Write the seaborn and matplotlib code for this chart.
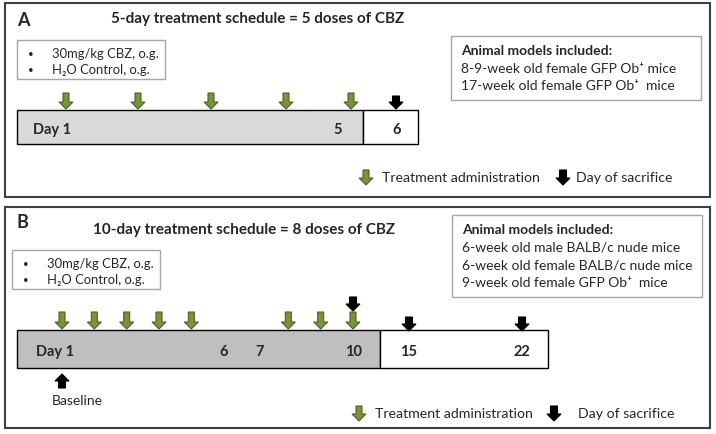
import numpy as np
import matplotlib
matplotlib.use("Agg")
import matplotlib.pyplot as plt
import matplotlib.patches as mpatches
import seaborn as sns

# --- data ---------------------------------------------------------------
panel_a_title = "5-day treatment schedule = 5 doses of CBZ"
panel_b_title = "10-day treatment schedule = 8 doses of CBZ"
groups = ["30mg/kg CBZ, o.g.", "H\u2082O Control, o.g."]

a_treat_days = [1, 2, 3, 4, 5]
a_sacrifice_days = [6]
a_day_labels = ["Day 1", "5", "6"]
a_models = ["8-9-week old female GFP Ob\u207a mice",
            "17-week old female GFP Ob\u207a  mice"]

b_treat_days = [1, 2, 3, 4, 5, 8, 9, 10]
b_sacrifice_days = [10, 15, 22]
b_baseline_days = [1]
b_day_labels = ["Day 1", "6", "7", "10", "15", "22"]
b_models = ["6-week old male BALB/c nude mice",
            "6-week old female BALB/c nude mice",
            "9-week old female GFP Ob\u207a  mice"]

# timeline scales (day -> pixel, broken after the treatment phase)
a_scale_days, a_scale_px = [1, 2, 3, 4, 5, 6], [66, 138, 211, 286, 351, 396]
b_scale_days, b_scale_px = [1, 10, 15, 22], [62, 353, 409, 522]

# --- style --------------------------------------------------------------
sns.set_theme(style="white")
plt.rcParams["font.family"] = ["Lato", "DejaVu Sans"]
GREEN, GREEN_EDGE = "#77933C", "#4F6228"
FRAME = "#404040"
BOX = "#A6A6A6"

fig = plt.figure(figsize=(7.16, 4.34), dpi=100)
ax = fig.add_axes([0, 0, 1, 1])
ax.set_xlim(0, 716)
ax.set_ylim(434, 0)
ax.axis("off")


def rect(x, y, w, h, ec, lw=1.0, fc="none"):
    ax.add_patch(mpatches.Rectangle((x, y), w, h, fc=fc, ec=ec, lw=lw))


def arrow(x, y0, y1, color, edge, width=6, hw=14, hl=7):
    ax.arrow(x, y0, 0, y1 - y0, width=width, head_width=hw, head_length=hl,
             length_includes_head=True, fc=color, ec=edge, lw=0.8, zorder=3)


def legend_box(x, y):
    rect(x, y, 148, 39, BOX)
    for i, g in enumerate(groups):
        ax.text(x + 11, y + 14 + i * 16, "\u2022", fontsize=7, va="center", ha="left")
        ax.text(x + 35, y + 14 + i * 16, g, fontsize=9.4, va="center", ha="left")


def models_box(x, y, h, lines):
    rect(x, y, 250, h, BOX)
    ax.text(x + 10, y + 15, "Animal models included:", fontsize=10,
            fontweight="bold", va="center")
    for i, t in enumerate(lines):
        ax.text(x + 10, y + 33 + i * 17.5, t, fontsize=10, va="center")


def key(x_green, x_black, x_text, y):
    arrow(x_green, y - 8, y + 7, GREEN, GREEN_EDGE)
    ax.text(x_green + 16, y, "Treatment administration", fontsize=10.2, va="center")
    arrow(x_black, y - 8, y + 7, "black", "black", width=7)
    ax.text(x_text, y, "Day of sacrifice", fontsize=10.2, va="center")


# --- panel A --------------------------------------------------------------
rect(5, 3, 705, 194, FRAME, lw=1.5)
ax.text(17, 21, "A", fontsize=13, fontweight="bold", va="center")
ax.text(258, 19, panel_a_title, fontsize=11, fontweight="bold", ha="center", va="center")
legend_box(17, 40)
models_box(451, 36, 64, a_models)

ya = 127
ax.barh(ya, 346, left=17, height=34, color="#D9D9D9", edgecolor="black", lw=1)
ax.barh(ya, 55, left=363, height=34, color="white", edgecolor="black", lw=1)
for d in a_treat_days:
    arrow(np.interp(d, a_scale_days, a_scale_px), 93, 109, GREEN, GREEN_EDGE)
for d in a_sacrifice_days:
    arrow(np.interp(d, a_scale_days, a_scale_px), 96, 109, "black", "black", width=7)
for lab, x in zip(a_day_labels, [33, 333, 392]):
    ax.text(x, ya + 3, lab, fontsize=10.5, fontweight="bold", va="center")
key(366, 563, 576, 178)

# --- panel B --------------------------------------------------------------
rect(5, 207, 705, 221, FRAME, lw=1.5)
ax.text(17, 223, "B", fontsize=13, fontweight="bold", va="center")
ax.text(244, 230, panel_b_title, fontsize=11, fontweight="bold", ha="center", va="center")
legend_box(12, 250)
models_box(452, 215, 82, b_models)

yb = 349
ax.barh(yb, 363, left=17, height=38, color="#BFBFBF", edgecolor="black", lw=1)
ax.barh(yb, 168, left=380, height=38, color="white", edgecolor="black", lw=1)
for d in b_treat_days:
    arrow(np.interp(d, b_scale_days, b_scale_px), 312, 329, GREEN, GREEN_EDGE)
for d in b_sacrifice_days:
    y0 = 297 if d in b_treat_days else 317
    arrow(np.interp(d, b_scale_days, b_scale_px), y0, y0 + 14, "black", "black", width=7)
for d in b_baseline_days:
    arrow(np.interp(d, b_scale_days, b_scale_px), 388, 374, "black", "black", width=7)
ax.text(52, 401, "Baseline", fontsize=10, va="center")
for lab, x in zip(b_day_labels, [36, 219, 255, 345, 400, 513]):
    ax.text(x, yb + 3, lab, fontsize=10.5, fontweight="bold", va="center")
key(359, 554, 578, 414)

fig.savefig("out.png", dpi=100)
